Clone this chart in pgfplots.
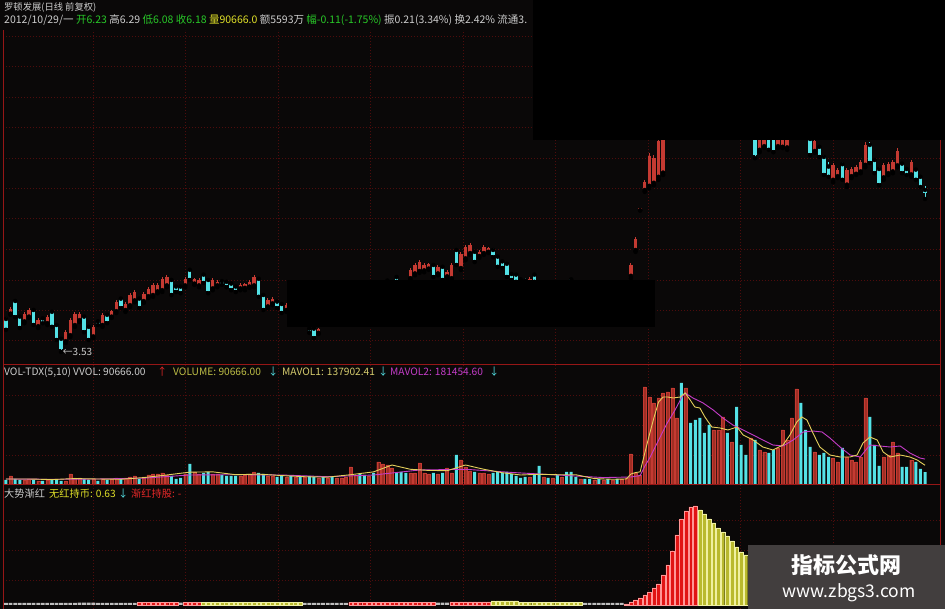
\documentclass[border=0pt]{standalone}
\usepackage{pgfplots}
\pgfplotsset{compat=1.18}
\usepackage{pgfplotstable}
\usepackage{fontspec}
\setmainfont{Noto Sans CJK SC}

\definecolor{bg}{RGB}{10,8,8}
\definecolor{gridc}{RGB}{78,12,12}
\definecolor{sepc}{RGB}{150,22,22}
\definecolor{upc}{RGB}{196,58,50}
\definecolor{dnc}{RGB}{84,226,230}
\definecolor{volup}{RGB}{160,46,36}
\definecolor{ma5c}{RGB}{228,208,92}
\definecolor{ma10c}{RGB}{196,60,200}
\definecolor{txt}{RGB}{205,205,205}
\definecolor{grn}{RGB}{40,200,40}
\definecolor{ylw}{RGB}{225,225,40}
\definecolor{volt}{RGB}{190,190,70}
\definecolor{ma5t}{RGB}{215,205,110}
\definecolor{redt}{RGB}{230,40,40}
\definecolor{indred}{RGB}{225,20,20}
\definecolor{indredl}{RGB}{255,150,150}
\definecolor{indylw}{RGB}{185,185,45}
\definecolor{indylwl}{RGB}{240,240,160}
\definecolor{indgry}{RGB}{190,190,190}
\definecolor{wm}{RGB}{66,62,62}

\newcommand\hf{\fontsize{10.2}{12}\selectfont}

\pgfplotsset{
  % keep only the rows whose column #1 lies between #2 and #3
  only kind/.style n args={3}{restrict expr to domain={\thisrow{#1}}{#2:#3}},
  panel/.style={scale only axis, width=937pt, xmin=-0.65, xmax=203.26,
    hide axis, anchor=south west, clip=true},
  wick/.style n args={3}{only marks, mark=none, only kind={d}{#1}{#2},
    error bars/.cd, y dir=plus, y explicit, error mark=none,
    error bar style={draw=#3, line width=0.9pt}},
  body/.style n args={3}{only marks, mark=none, only kind={d}{#1}{#2},
    error bars/.cd, y dir=plus, y explicit, error mark=none,
    error bar style={draw=#3, line width=3.4pt}},
}

% daily candles: open, high, low, close, d = 1 rising / 0 falling
\pgfplotstableread[row sep=\\]{
i o h l c d\\
0 4.08 4.11 3.90 3.93 0\\ 1 4.17 4.28 4.15 4.25 1\\ 2 4.38 4.41 4.11 4.14 0\\
3 4.12 4.15 3.93 3.96 0\\ 4 4.04 4.20 4.01 4.17 1\\ 5 4.12 4.26 4.10 4.23 1\\
6 4.23 4.26 3.98 4.01 0\\ 7 3.96 4.10 3.93 4.07 1\\ 8 4.09 4.11 4.01 4.03 0\\
9 4.01 4.15 3.98 4.12 1\\ 10 4.20 4.23 3.95 3.98 0\\ 11 3.98 4.01 3.73 3.76 0\\
12 3.75 3.78 3.53 3.58 0\\ 13 3.71 3.90 3.68 3.87 1\\ 14 3.81 4.10 3.78 4.07 1\\
15 3.98 4.20 3.95 4.17 1\\ 16 4.06 4.20 4.03 4.17 1\\ 17 4.12 4.15 3.86 3.89 0\\
18 3.95 3.98 3.73 3.76 0\\ 19 3.79 3.98 3.76 3.95 1\\ 20 4.04 4.06 3.98 4.00 0\\
21 3.98 4.18 3.95 4.15 1\\ 22 4.15 4.18 4.01 4.04 0\\ 23 4.12 4.23 4.10 4.21 1\\
24 4.21 4.40 4.18 4.37 1\\ 25 4.42 4.45 4.26 4.29 0\\ 26 4.23 4.36 4.20 4.33 1\\
27 4.31 4.51 4.28 4.48 1\\ 28 4.39 4.56 4.36 4.53 1\\ 29 4.42 4.45 4.26 4.29 0\\
30 4.38 4.53 4.35 4.50 1\\ 31 4.46 4.61 4.43 4.58 1\\ 32 4.48 4.68 4.45 4.65 1\\
33 4.54 4.68 4.51 4.65 1\\ 34 4.56 4.78 4.53 4.75 1\\ 35 4.64 4.81 4.61 4.78 1\\
36 4.73 4.76 4.48 4.51 0\\ 37 4.62 4.65 4.53 4.56 0\\ 38 4.62 4.65 4.51 4.54 0\\
39 4.64 4.78 4.61 4.75 1\\ 40 4.90 4.93 4.73 4.76 0\\ 41 4.67 4.76 4.65 4.74 1\\
42 4.64 4.76 4.61 4.73 1\\ 43 4.82 4.85 4.68 4.71 0\\ 44 4.73 4.76 4.51 4.54 0\\
45 4.59 4.76 4.56 4.73 1\\ 46 4.64 4.73 4.61 4.70 1\\ 47 4.71 4.73 4.65 4.67 0\\
48 4.70 4.73 4.61 4.65 0\\ 49 4.67 4.70 4.56 4.59 0\\ 50 4.62 4.65 4.53 4.56 0\\
51 4.59 4.68 4.56 4.65 1\\ 52 4.60 4.68 4.56 4.66 1\\ 53 4.62 4.73 4.60 4.70 1\\
54 4.64 4.81 4.61 4.78 1\\ 55 4.75 4.78 4.45 4.48 0\\ 56 4.48 4.51 4.23 4.26 0\\
57 4.29 4.43 4.26 4.40 1\\ 58 4.34 4.45 4.31 4.42 1\\ 59 4.37 4.40 4.26 4.29 0\\
60 4.33 4.36 4.18 4.21 0\\ 61 4.23 4.35 4.20 4.32 1\\
66 3.92 3.93 3.85 3.87 0\\ 67 3.92 3.95 3.76 3.79 0\\ 68 3.85 3.93 3.83 3.91 1\\
83 4.72 4.75 4.70 4.74 1\\ 85 4.78 4.80 4.70 4.73 0\\
88 4.76 4.93 4.73 4.90 1\\ 89 4.84 5.01 4.81 4.98 1\\ 90 4.88 5.06 4.85 5.03 1\\
91 4.89 5.01 4.86 4.98 1\\ 92 4.92 5.01 4.90 4.99 1\\ 93 4.98 5.01 4.78 4.81 0\\
94 4.84 4.98 4.81 4.95 1\\ 95 4.95 4.98 4.73 4.76 0\\ 96 4.79 4.90 4.76 4.87 1\\
97 4.76 5.01 4.73 4.98 1\\ 98 5.23 5.26 4.98 5.01 0\\ 99 4.93 5.20 4.90 5.17 1\\
100 5.09 5.31 5.06 5.28 1\\ 101 5.18 5.35 5.15 5.32 1\\ 102 5.20 5.23 5.03 5.06 0\\
103 5.13 5.23 5.10 5.20 1\\ 104 5.18 5.31 5.15 5.28 1\\ 105 5.20 5.28 5.18 5.26 1\\
106 5.23 5.26 5.11 5.14 0\\ 107 5.12 5.15 4.95 4.98 0\\ 108 5.04 5.06 4.93 4.96 0\\
109 5.00 5.03 4.78 4.81 0\\ 110 4.83 4.86 4.73 4.76 0\\ 111 4.82 4.85 4.70 4.73 0\\
112 4.74 4.76 4.60 4.66 0\\ 113 4.72 4.76 4.62 4.66 0\\ 114 4.66 4.78 4.62 4.74 1\\
115 4.82 4.85 4.70 4.73 0\\ 123 4.74 4.75 4.62 4.70 0\\
136 4.80 5.01 4.76 4.98 1\\ 137 5.23 5.45 5.20 5.42 1\\ 138 5.89 5.93 5.89 5.93 1\\
139 6.23 6.40 6.20 6.37 1\\ 140 6.30 6.85 6.26 6.80 1\\ 141 6.35 6.81 6.31 6.76 1\\
142 6.45 7.10 6.40 7.05 1\\ 143 6.52 7.35 6.48 7.30 1\\
163 7.30 7.40 6.76 6.81 0\\ 164 6.90 7.30 6.86 7.20 1\\ 165 6.96 7.25 6.93 7.20 1\\
166 7.10 7.20 6.90 6.93 0\\ 167 7.10 7.20 6.86 6.90 0\\ 168 6.96 7.20 6.93 7.15 1\\
169 6.95 7.18 6.93 7.12 1\\ 170 6.94 7.20 6.90 7.15 1\\
175 7.08 7.15 6.81 6.84 0\\ 176 6.88 7.10 6.85 7.05 1\\ 177 6.95 6.98 6.78 6.81 0\\
178 6.78 6.81 6.48 6.51 0\\ 179 6.62 6.70 6.45 6.48 0\\ 180 6.40 6.68 6.36 6.64 1\\
181 6.46 6.60 6.43 6.57 1\\ 182 6.66 6.70 6.40 6.43 0\\ 183 6.32 6.60 6.28 6.56 1\\
184 6.46 6.62 6.43 6.58 1\\ 185 6.50 6.65 6.48 6.62 1\\ 186 6.54 6.73 6.51 6.70 1\\
187 6.65 7.03 6.61 6.98 1\\ 188 6.98 7.03 6.68 6.71 0\\ 189 6.73 6.76 6.51 6.54 0\\
190 6.58 6.61 6.31 6.34 0\\ 191 6.44 6.68 6.40 6.64 1\\ 192 6.51 6.70 6.48 6.66 1\\
193 6.54 6.73 6.51 6.70 1\\ 194 6.64 6.93 6.61 6.88 1\\ 195 6.67 6.70 6.51 6.54 0\\
196 6.58 6.61 6.48 6.50 0\\ 197 6.49 6.73 6.45 6.70 1\\ 198 6.57 6.60 6.40 6.43 0\\
199 6.45 6.48 6.28 6.29 0\\ 200 6.23 6.29 6.08 6.18 0\\
}\candles

% daily volume, d = 1 rising / 0 falling
\pgfplotstableread[row sep=\\]{
i v d\\
0 35000 0\\ 1 63000 1\\ 2 42000 0\\ 3 35000 0\\ 4 35000 1\\ 5 42000 1\\ 6 35000 0\\ 7 28000 1\\ 8 28000 0\\ 9 35000 1\\
10 35000 0\\ 11 35000 0\\ 12 28000 0\\ 13 28000 1\\ 14 77000 1\\ 15 49000 1\\ 16 49000 1\\ 17 42000 0\\ 18 35000 0\\ 19 42000 1\\
20 28000 0\\ 21 42000 1\\ 22 35000 0\\ 23 42000 1\\ 24 49000 1\\ 25 42000 0\\ 26 49000 1\\ 27 56000 1\\ 28 63000 1\\ 29 42000 0\\
30 56000 1\\ 31 70000 1\\ 32 77000 1\\ 33 77000 1\\ 34 84000 1\\ 35 70000 1\\ 36 63000 0\\ 37 42000 0\\ 38 49000 0\\ 39 77000 1\\
40 147000 0\\ 41 91000 1\\ 42 77000 1\\ 43 84000 0\\ 44 91000 0\\ 45 77000 1\\ 46 77000 1\\ 47 70000 0\\ 48 63000 0\\ 49 63000 0\\
50 63000 0\\ 51 63000 1\\ 52 70000 1\\ 53 77000 1\\ 54 91000 1\\ 55 84000 0\\ 56 77000 0\\ 57 63000 1\\ 58 63000 1\\ 59 56000 0\\
60 63000 0\\ 61 56000 1\\ 62 63000 0\\ 63 56000 1\\ 64 56000 0\\ 65 56000 1\\ 66 63000 0\\ 67 56000 0\\ 68 49000 1\\ 69 56000 0\\
70 49000 1\\ 71 56000 0\\ 72 49000 1\\ 73 49000 1\\ 74 56000 1\\ 75 126000 1\\ 76 70000 1\\ 77 77000 0\\ 78 70000 0\\ 79 63000 1\\
80 84000 0\\ 81 161000 1\\ 82 147000 1\\ 83 140000 1\\ 84 119000 1\\ 85 84000 0\\ 86 91000 0\\ 87 84000 0\\ 88 84000 1\\ 89 84000 1\\
90 154000 1\\ 91 84000 1\\ 92 77000 1\\ 93 84000 0\\ 94 77000 1\\ 95 84000 0\\ 96 119000 1\\ 97 84000 1\\ 98 210000 0\\ 99 175000 1\\
100 126000 1\\ 101 98000 1\\ 102 91000 0\\ 103 84000 1\\ 104 84000 1\\ 105 77000 1\\ 106 84000 0\\ 107 91000 0\\ 108 84000 0\\ 109 91000 0\\
110 77000 0\\ 111 63000 0\\ 112 49000 0\\ 113 56000 0\\ 114 56000 1\\ 115 70000 0\\ 116 133000 0\\ 117 56000 1\\ 118 49000 0\\ 119 49000 1\\
120 70000 0\\ 121 56000 1\\ 122 91000 0\\ 123 91000 0\\ 124 56000 0\\ 125 42000 1\\ 126 42000 0\\ 127 42000 0\\ 128 35000 1\\ 129 42000 0\\
130 35000 1\\ 131 42000 0\\ 132 35000 1\\ 133 42000 0\\ 134 42000 1\\ 135 49000 1\\ 136 217000 1\\ 137 84000 1\\ 138 70000 1\\ 139 686000 1\\
140 616000 1\\ 141 574000 1\\ 142 609000 1\\ 143 644000 1\\ 144 651000 1\\ 145 679000 1\\ 146 469000 1\\ 147 714000 0\\ 148 679000 1\\ 149 434000 0\\
150 455000 0\\ 151 469000 0\\ 152 364000 0\\ 153 420000 0\\ 154 385000 1\\ 155 385000 1\\ 156 476000 1\\ 157 364000 0\\ 158 301000 1\\ 159 546000 0\\
160 280000 0\\ 161 210000 0\\ 162 329000 1\\ 163 315000 0\\ 164 245000 1\\ 165 231000 1\\ 166 224000 0\\ 167 245000 0\\ 168 259000 1\\ 169 385000 1\\
170 315000 1\\ 171 469000 1\\ 172 672000 1\\ 173 574000 0\\ 174 385000 0\\ 175 266000 0\\ 176 231000 1\\ 177 210000 0\\ 178 224000 0\\ 179 196000 0\\
180 189000 1\\ 181 161000 1\\ 182 259000 0\\ 183 196000 1\\ 184 175000 1\\ 185 161000 1\\ 186 196000 1\\ 187 609000 1\\ 188 476000 0\\ 189 280000 0\\
190 133000 0\\ 191 196000 1\\ 192 210000 1\\ 193 301000 1\\ 194 224000 1\\ 195 126000 0\\ 196 126000 0\\ 197 175000 1\\ 198 161000 0\\ 199 112000 0\\
200 90666 0\\
}\vol

% MAVOL1 (5 days)
\pgfplotstableread[row sep=\\]{
i m\\
0 42000\\ 5 42000\\ 10 38000\\ 15 45000\\ 20 42000\\ 25 40000\\ 30 52000\\ 35 70000\\
40 90000\\ 45 92000\\ 50 72000\\ 55 76000\\ 60 66000\\ 65 58000\\ 70 55000\\ 75 72000\\
80 92000\\ 84 140000\\ 88 110000\\ 92 102000\\ 96 100000\\ 100 140000\\ 104 110000\\ 108 86000\\
112 70000\\ 116 75000\\ 120 72000\\ 124 72000\\ 128 45000\\ 132 40000\\ 135 42000\\ 136 77000\\
137 87000\\ 138 92000\\ 139 221000\\ 140 350000\\ 141 470000\\ 142 580000\\ 143 616000\\ 144 616000\\
145.2 609000\\ 146.7 616000\\ 147.8 644000\\ 148.9 595000\\ 149.9 546000\\ 151 539000\\ 152.1 476000\\ 153.6 406000\\
155.4 399000\\ 157.1 385000\\ 159.1 406000\\ 160.4 350000\\ 162.6 315000\\ 164.7 266000\\ 166.9 245000\\ 169.1 280000\\
170.6 350000\\ 172.1 441000\\ 173.2 476000\\ 174.3 455000\\ 175.6 364000\\ 177.1 266000\\ 179.3 210000\\ 181.5 196000\\
183.7 196000\\ 185.2 210000\\ 186.5 294000\\ 188 336000\\ 189.6 315000\\ 190.9 231000\\ 192.4 196000\\ 194.6 210000\\
196.7 196000\\ 198.3 175000\\ 200 137902.41\\
}\mava

% MAVOL2 (10 days)
\pgfplotstableread[row sep=\\]{
i m\\
0 42000\\ 10 40000\\ 20 42000\\ 30 48000\\ 40 70000\\ 50 72000\\ 60 70000\\ 70 58000\\
80 70000\\ 90 105000\\ 100 110000\\ 110 88000\\ 120 70000\\ 130 52000\\ 136 56000\\ 138 66000\\
139 130000\\ 140.2 196000\\ 141.7 294000\\ 143.9 434000\\ 145.6 525000\\ 147.1 616000\\ 147.8 644000\\ 149.5 609000\\
151.7 574000\\ 153.9 525000\\ 156 469000\\ 158.2 420000\\ 160.4 385000\\ 162.6 350000\\ 164.7 315000\\ 166.9 280000\\
169.1 273000\\ 171.3 315000\\ 173.5 371000\\ 175.6 378000\\ 177.6 371000\\ 179.3 329000\\ 181.5 266000\\ 183.7 210000\\
185.9 196000\\ 188 280000\\ 190.2 273000\\ 192.4 266000\\ 194.6 273000\\ 196.7 224000\\ 198.9 189000\\ 200 181454.60\\
}\mavb

% trend indicator, c = 0 neutral / 1 red / 2 yellow
\pgfplotstableread[row sep=\\]{
i v c\\
0 0.10 0\\ 1 0.10 0\\ 2 0.10 0\\ 3 0.10 0\\ 4 0.10 0\\ 5 0.10 0\\ 6 0.10 0\\ 7 0.10 0\\ 8 0.10 0\\ 9 0.10 0\\
10 0.10 0\\ 11 0.10 0\\ 12 0.10 0\\ 13 0.10 0\\ 14 0.10 0\\ 15 0.10 0\\ 16 0.12 0\\ 17 0.12 0\\ 18 0.12 0\\ 19 0.12 0\\
20 0.10 0\\ 21 0.10 0\\ 22 0.10 0\\ 23 0.10 0\\ 24 0.10 0\\ 25 0.10 0\\ 26 0.10 0\\ 27 0.10 0\\ 28 0.10 0\\ 29 0.12 1\\
30 0.12 1\\ 31 0.12 1\\ 32 0.12 1\\ 33 0.12 1\\ 34 0.12 1\\ 35 0.12 1\\ 36 0.12 1\\ 37 0.12 1\\ 38 0.12 0\\ 39 0.12 1\\
40 0.12 1\\ 41 0.12 1\\ 42 0.12 1\\ 43 0.12 2\\ 44 0.12 2\\ 45 0.12 2\\ 46 0.12 2\\ 47 0.12 2\\ 48 0.12 2\\ 49 0.12 2\\
50 0.12 2\\ 51 0.12 2\\ 52 0.12 2\\ 53 0.12 2\\ 54 0.12 2\\ 55 0.12 2\\ 56 0.12 2\\ 57 0.12 2\\ 58 0.12 2\\ 59 0.12 2\\
60 0.12 2\\ 61 0.12 2\\ 62 0.12 2\\ 63 0.12 2\\ 64 0.12 2\\ 65 0.10 0\\ 66 0.10 0\\ 67 0.10 0\\ 68 0.10 0\\ 69 0.10 0\\
70 0.10 0\\ 71 0.10 0\\ 72 0.10 0\\ 73 0.10 0\\ 74 0.10 0\\ 75 0.12 1\\ 76 0.12 1\\ 77 0.12 1\\ 78 0.12 1\\ 79 0.12 1\\
80 0.12 1\\ 81 0.12 1\\ 82 0.12 1\\ 83 0.12 1\\ 84 0.12 1\\ 85 0.12 1\\ 86 0.12 1\\ 87 0.12 1\\ 88 0.12 1\\ 89 0.12 1\\
90 0.12 1\\ 91 0.12 1\\ 92 0.12 1\\ 93 0.12 1\\ 94 0.12 0\\ 95 0.12 0\\ 96 0.12 0\\ 97 0.15 1\\ 98 0.15 1\\ 99 0.15 1\\
100 0.15 1\\ 101 0.15 1\\ 102 0.15 1\\ 103 0.15 1\\ 104 0.15 1\\ 105 0.15 1\\ 106 0.20 2\\ 107 0.20 2\\ 108 0.20 2\\ 109 0.20 2\\
110 0.20 2\\ 111 0.20 2\\ 112 0.12 2\\ 113 0.12 2\\ 114 0.12 2\\ 115 0.12 2\\ 116 0.12 2\\ 117 0.12 2\\ 118 0.12 2\\ 119 0.12 2\\
120 0.12 2\\ 121 0.12 2\\ 122 0.12 2\\ 123 0.12 2\\ 124 0.12 2\\ 125 0.12 2\\ 126 0.10 0\\ 127 0.10 0\\ 128 0.10 0\\ 129 0.10 0\\
130 0.10 0\\ 131 0.10 0\\ 132 0.10 0\\ 133 0.10 0\\ 134 0.10 0\\ 135 0.05 1\\ 136 0.15 1\\ 137 0.25 1\\ 138 0.35 1\\ 139 0.50 1\\
140 0.65 1\\ 141 0.85 1\\ 142 1.05 1\\ 143 1.50 1\\ 144 2.00 1\\ 145 2.70 1\\ 146 3.50 1\\ 147 4.30 1\\ 148 4.70 1\\ 149 4.90 1\\
150 4.95 1\\ 151 4.75 2\\ 152 4.55 2\\ 153 4.30 2\\ 154 4.10 2\\ 155 3.85 2\\ 156 3.65 2\\ 157 3.45 2\\ 158 3.20 2\\ 159 2.90 2\\
160 2.65 2\\ 161 2.50 2\\
}\ind

\begin{document}
\begin{tikzpicture}[x=1pt,y=1pt]
% background
\fill[bg] (0,0) rectangle (945,609);

% dotted grid
\begin{scope}[gridc, line width=0.6pt, dash pattern=on 1pt off 2pt]
  \foreach \gy in {269,299,329,360,391,421,451,482,512,543,573,214,184,154,89,59,29}
    \draw (3,\gy) -- (940,\gy);
  \foreach \gx in {93,185.5,278,370.5,463,555.5,648,740.5,833}
    \draw (\gx,0) -- (\gx,579);
\end{scope}

% price panel
\begin{axis}[panel, at={(3pt,244pt)}, height=335pt, ymin=3.3133, ymax=8.8967]
  \addplot[wick={0.5}{1.5}{upc}] table[x=i, y=l, y error expr=\thisrow{h}-\thisrow{l}] {\candles};
  \addplot[wick={-0.5}{0.5}{dnc}] table[x=i, y=l, y error expr=\thisrow{h}-\thisrow{l}] {\candles};
  \addplot[body={0.5}{1.5}{upc}] table[x=i, y=o, y error expr=\thisrow{c}-\thisrow{o}] {\candles};
  \addplot[body={-0.5}{0.5}{dnc}] table[x=i, y=o, y error expr=\thisrow{c}-\thisrow{o}] {\candles};
  \node[anchor=west, inner sep=0pt, text=txt, font=\fontsize{10}{11}\selectfont]
    at (axis cs:12.3,3.53) {←3.53};
\end{axis}

% volume panel
\begin{axis}[panel, at={(3pt,124pt)}, height=120pt, ymin=0, ymax=840000]
  \addplot[ybar, bar width=3pt, bar shift=0pt, fill=volup, draw=upc, line width=0.3pt,
    only kind={d}{0.5}{1.5}] table[x=i, y=v] {\vol};
  \addplot[ybar, bar width=3pt, bar shift=0pt, fill=dnc, draw=none,
    only kind={d}{-0.5}{0.5}] table[x=i, y=v] {\vol};
  \addplot[ma10c, line width=0.9pt, mark=none] table[x=i, y=m] {\mavb};
  \addplot[ma5c, line width=0.9pt, mark=none] table[x=i, y=m] {\mava};
\end{axis}

% trend indicator panel
\begin{axis}[panel, at={(3pt,0pt)}, height=124pt, ymin=-0.2, ymax=6]
  \addplot[ybar, bar width=3.8pt, bar shift=0pt, fill=indgry, draw=none,
    only kind={c}{-0.5}{0.5}] table[x=i, y=v] {\ind};
  \addplot[ybar, bar width=3.8pt, bar shift=0pt, fill=indred, draw=indredl, line width=0.4pt,
    only kind={c}{0.5}{1.5}] table[x=i, y=v] {\ind};
  \addplot[ybar, bar width=3.8pt, bar shift=0pt, fill=indylw, draw=indylwl, line width=0.4pt,
    only kind={c}{1.5}{2.5}] table[x=i, y=v] {\ind};
\end{axis}

% panel separators and borders
\draw[sepc, line width=1pt] (3,244) -- (940,244);
\draw[sepc, line width=1pt] (3,124) -- (940,124);
\draw[sepc, line width=0.8pt] (3,0) -- (3,579);
\draw[sepc, line width=0.8pt] (940,0) -- (940,579);

% masked areas
\fill[black] (533,469) rectangle (945,609);
\fill[black] (287,282) rectangle (655,329);

% quote header
\node[anchor=west, inner sep=0pt, text=txt, font=\fontsize{9.3}{11}\selectfont] at (4,602) {罗顿发展(日线 前复权)};
\node[anchor=west, inner sep=0pt, font=\fontsize{10.5}{12}\selectfont] at (4,589) {%
  \textcolor{txt}{2012/10/29/一} \textcolor{grn}{开6.23} \textcolor{txt}{高6.29}
  \textcolor{grn}{低6.08} \textcolor{grn}{收6.18} \textcolor{ylw}{量90666.0}
  \textcolor{txt}{额5593万} \textcolor{grn}{幅-0.11(-1.75\%)} \textcolor{txt}{振0.21(3.34\%)}
  \textcolor{txt}{换2.42\%} \textcolor{txt}{流通3.}};
\fill[black] (533,580) rectangle (945,609);

% volume header
\begin{scope}[every node/.style={anchor=west, inner sep=0pt, font=\hf}]
  \node[text=txt]   at (4,237)   {VOL-TDX(5,10) VVOL: 90666.00};
  \node[text=redt]  at (157,237) {↑};
  \node[text=volt]  at (173,237) {VOLUME: 90666.00};
  \node[text=dnc]   at (268,237) {↓};
  \node[text=ma5t]  at (282,237) {MAVOL1: 137902.41};
  \node[text=dnc]   at (378,237) {↓};
  \node[text=ma10c] at (390,237) {MAVOL2: 181454.60};
  \node[text=dnc]   at (489,237) {↓};
% indicator header
  \node[text=txt]   at (4,115)   {大势渐红};
  \node[text=ylw]   at (49,115)  {无红持币: 0.63};
  \node[text=dnc]   at (118,115) {↓};
  \node[text=redt]  at (131,115) {渐红持股: -};
\end{scope}

% site badge
\fill[wm] (748,0) rectangle (945,64);
\node[text=white, inner sep=0pt, font=\fontsize{22}{24}\selectfont\bfseries] at (846,44) {指标公式网};
\node[text=white, inner sep=0pt, font=\fontsize{17.5}{20}\selectfont] at (849,16) {www.zbgs3.com};
\end{tikzpicture}
\end{document}
